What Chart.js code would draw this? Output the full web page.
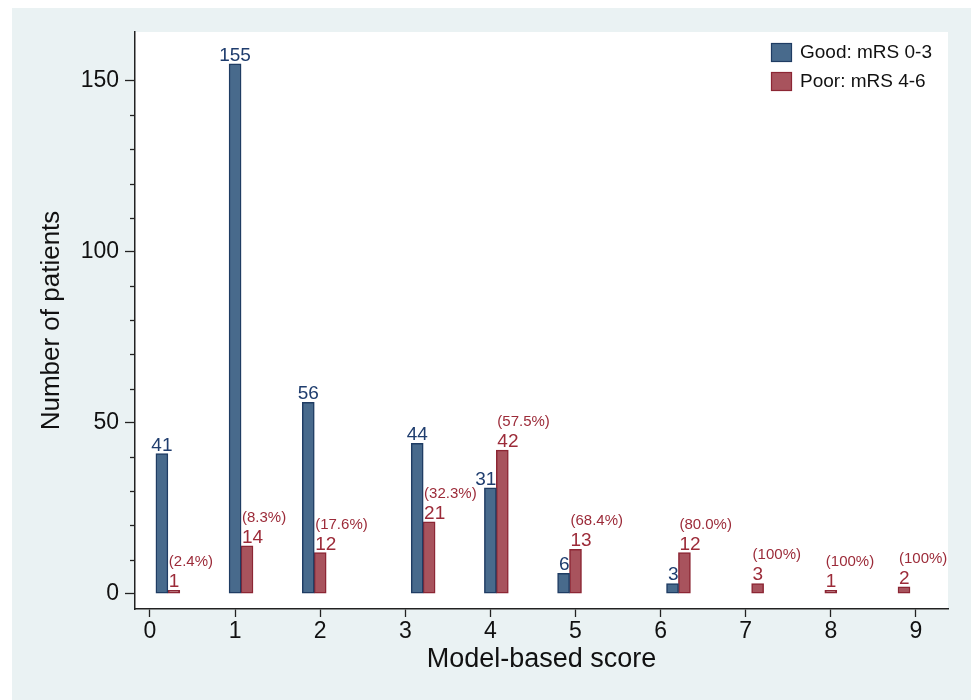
<!DOCTYPE html>
<html>
<head>
<meta charset="utf-8">
<script src="https://cdn.jsdelivr.net/npm/chart.js@4.4.1/dist/chart.umd.min.js"></script>
<style>
  html, body { margin: 0; padding: 0; background: #fff; }
</style>
</head>
<body>
<canvas id="scoreChart" width="971" height="700"></canvas>
<script>
// Values
const scores = [0, 1, 2, 3, 4, 5, 6, 7, 8, 9];
const goodCounts = [41, 155, 56, 44, 31, 6, 3, null, null, null];
const poorCounts = [1, 14, 12, 21, 42, 13, 12, 3, 1, 2];
const poorPercent = [2.4, 8.3, 17.6, 32.3, 57.5, 68.4, 80.0, 100, 100, 100];

// where each bar sits on the score axis in the picture
const goodPos = [0.14, 1.0, 1.86, 3.14, 4.0, 4.86, 6.14, null, null, null];
const poorPos = [0.28, 1.14, 2.0, 3.28, 4.14, 5.0, 6.28, 7.14, 8.0, 8.86];

// y axis ticks (labelled ones and minor ones)
const yTicks = [0, 10, 20, 30, 40, 50, 60, 70, 80, 90, 100, 110, 120, 130, 140, 150];
const yLabels = [0, 50, 100, 150];

const FONT = "'Liberation Sans', Arial, sans-serif";
const BLUE = "#486a8c", BLUE_EDGE = "#1f3c63", BLUE_TEXT = "#1f3d6e";
const RED = "#a8535d", RED_EDGE = "#8c2634", RED_TEXT = "#9c2b39";

function points(pos, vals) {
    const out = [];
    vals.forEach((v, i) => {
        if (v !== null) out.push({ x: pos[i], y: v });
    });
    return out;
}

function fmtPct(p) {
    return "(" + (p === 100 ? "100" : p.toFixed(1)) + "%)";
}

// Background: light outer area, white plot region
const background = {
    id: "background",
    beforeDraw(chart) {
        const { ctx, chartArea: a } = chart;
        ctx.save();
        ctx.fillStyle = "#eaf2f3";
        ctx.fillRect(0, 0, chart.width, chart.height);
        ctx.fillStyle = "#ffffff";
        ctx.fillRect(0, 0, chart.width, 8);
        ctx.fillRect(0, 0, 12, chart.height);
        ctx.fillRect(a.left, a.top, a.right - a.left, a.bottom - a.top);
        ctx.restore();
    }
};

// Short minor ticks on the y axis
const minorTicks = {
    id: "minorTicks",
    afterDraw(chart) {
        const { ctx, chartArea: a, scales: { y } } = chart;
        ctx.save();
        ctx.strokeStyle = "#222";
        ctx.lineWidth = 1.3;
        yTicks.forEach(v => {
            if (yLabels.includes(v)) return;
            const py = Math.round(y.getPixelForValue(v)) + 0.5;
            ctx.beginPath();
            ctx.moveTo(a.left - 5, py);
            ctx.lineTo(a.left, py);
            ctx.stroke();
        });
        ctx.restore();
    }
};

// Count labels above bars, percentages above the poor ones
const barLabels = {
    id: "barLabels",
    afterDatasetsDraw(chart) {
        const ctx = chart.ctx;
        const good = chart.getDatasetMeta(0).data;
        const poor = chart.getDatasetMeta(1).data;
        ctx.save();
        ctx.textBaseline = "alphabetic";

        // good bars
        ctx.font = "19px " + FONT;
        ctx.fillStyle = BLUE_TEXT;
        let gi = 0;
        goodCounts.forEach((v, i) => {
            if (v === null) return;
            const bar = good[gi++];
            const txt = String(v);
            const w = ctx.measureText(txt).width;
            let x = bar.x - w / 2;
            // red bar next to it is taller: push the label left
            if (poorCounts[i] > v) x = bar.x + bar.width / 2 - w;
            ctx.fillText(txt, x, bar.y - 3);
        });

        // poor bars
        poor.forEach((bar, i) => {
            const left = bar.x - bar.width / 2;
            ctx.font = "19px " + FONT;
            ctx.fillStyle = RED_TEXT;
            const txt = String(poorCounts[i]);
            const w = ctx.measureText(txt).width;
            const x = Math.max(left + 1, bar.x - w / 2);
            ctx.fillText(txt, x, bar.y - 3);
            ctx.font = "15px " + FONT;
            ctx.fillText(fmtPct(poorPercent[i]), left + 1, bar.y - 24);
        });
        ctx.restore();
    }
};

// Legend in the top right corner of the plot
const cornerLegend = {
    id: "cornerLegend",
    afterDraw(chart) {
        const { ctx, chartArea: a } = chart;
        const sets = chart.data.datasets;
        ctx.save();
        ctx.font = "19px " + FONT;
        ctx.textBaseline = "middle";
        sets.forEach((ds, i) => {
            const x = a.right - 177;
            const y = a.top + 11 + i * 29;
            ctx.fillStyle = ds.backgroundColor;
            ctx.fillRect(x, y, 21, 19);
            ctx.strokeStyle = ds.borderColor;
            ctx.lineWidth = 1.2;
            ctx.strokeRect(x + 0.5, y + 0.5, 20, 18);
            ctx.fillStyle = "#111";
            ctx.fillText(ds.label, x + 29, y + 10);
        });
        ctx.restore();
    }
};

const ctx = document.getElementById("scoreChart").getContext("2d");

new Chart(ctx, {
    type: "bar",
    data: {
        datasets: [{
            label: "Good: mRS 0-3",
            data: points(goodPos, goodCounts),
            backgroundColor: BLUE,
            borderColor: BLUE_EDGE,
            borderWidth: 1.5,
            borderSkipped: false,
            barThickness: 12,
            grouped: false
        }, {
            label: "Poor: mRS 4-6",
            data: points(poorPos, poorCounts),
            backgroundColor: RED,
            borderColor: RED_EDGE,
            borderWidth: 1.5,
            borderSkipped: false,
            barThickness: 12,
            grouped: false
        }]
    },
    options: {
        responsive: false,
        animation: false,
        layout: { padding: { top: 32, right: 23, left: 0, bottom: 0 } },
        plugins: {
            legend: { display: false },
            tooltip: { enabled: false }
        },
        scales: {
            x: {
                type: "linear",
                offset: false,
                min: -0.176,
                max: 9.377,
                afterBuildTicks: s => { s.ticks = scores.map(v => ({ value: v })); },
                afterFit: s => { s.height = 91; },
                ticks: {
                    font: { family: FONT, size: 23 },
                    color: "#111",
                    padding: 1,
                    maxRotation: 0,
                    autoSkip: false
                },
                grid: {
                    offset: false,
                    drawOnChartArea: false,
                    tickLength: 8,
                    tickColor: "#222",
                    tickWidth: 1.3
                },
                border: { color: "#222", width: 1.5 },
                title: {
                    display: true,
                    text: "Model-based score",
                    color: "#111",
                    font: { family: FONT, size: 27 },
                    padding: { top: 0, bottom: 24 }
                }
            },
            y: {
                min: -4.47,
                max: 164.33,
                afterBuildTicks: s => { s.ticks = yTicks.map(v => ({ value: v })); },
                afterFit: s => { s.width = 135; },
                ticks: {
                    font: { family: FONT, size: 23 },
                    color: "#111",
                    padding: 6,
                    callback: v => yLabels.includes(v) ? String(v) : ""
                },
                grid: {
                    drawOnChartArea: false,
                    tickLength: 10,
                    tickWidth: 1.3,
                    tickColor: c => yLabels.includes(c.tick.value) ? "#222" : "rgba(0,0,0,0)"
                },
                border: { color: "#222", width: 1.5 },
                title: {
                    display: true,
                    text: "Number of patients",
                    color: "#111",
                    font: { family: FONT, size: 26 },
                    padding: { top: 36, bottom: 0 }
                }
            }
        }
    },
    plugins: [background, minorTicks, barLabels, cornerLegend]
});
</script>
</body>
</html>
